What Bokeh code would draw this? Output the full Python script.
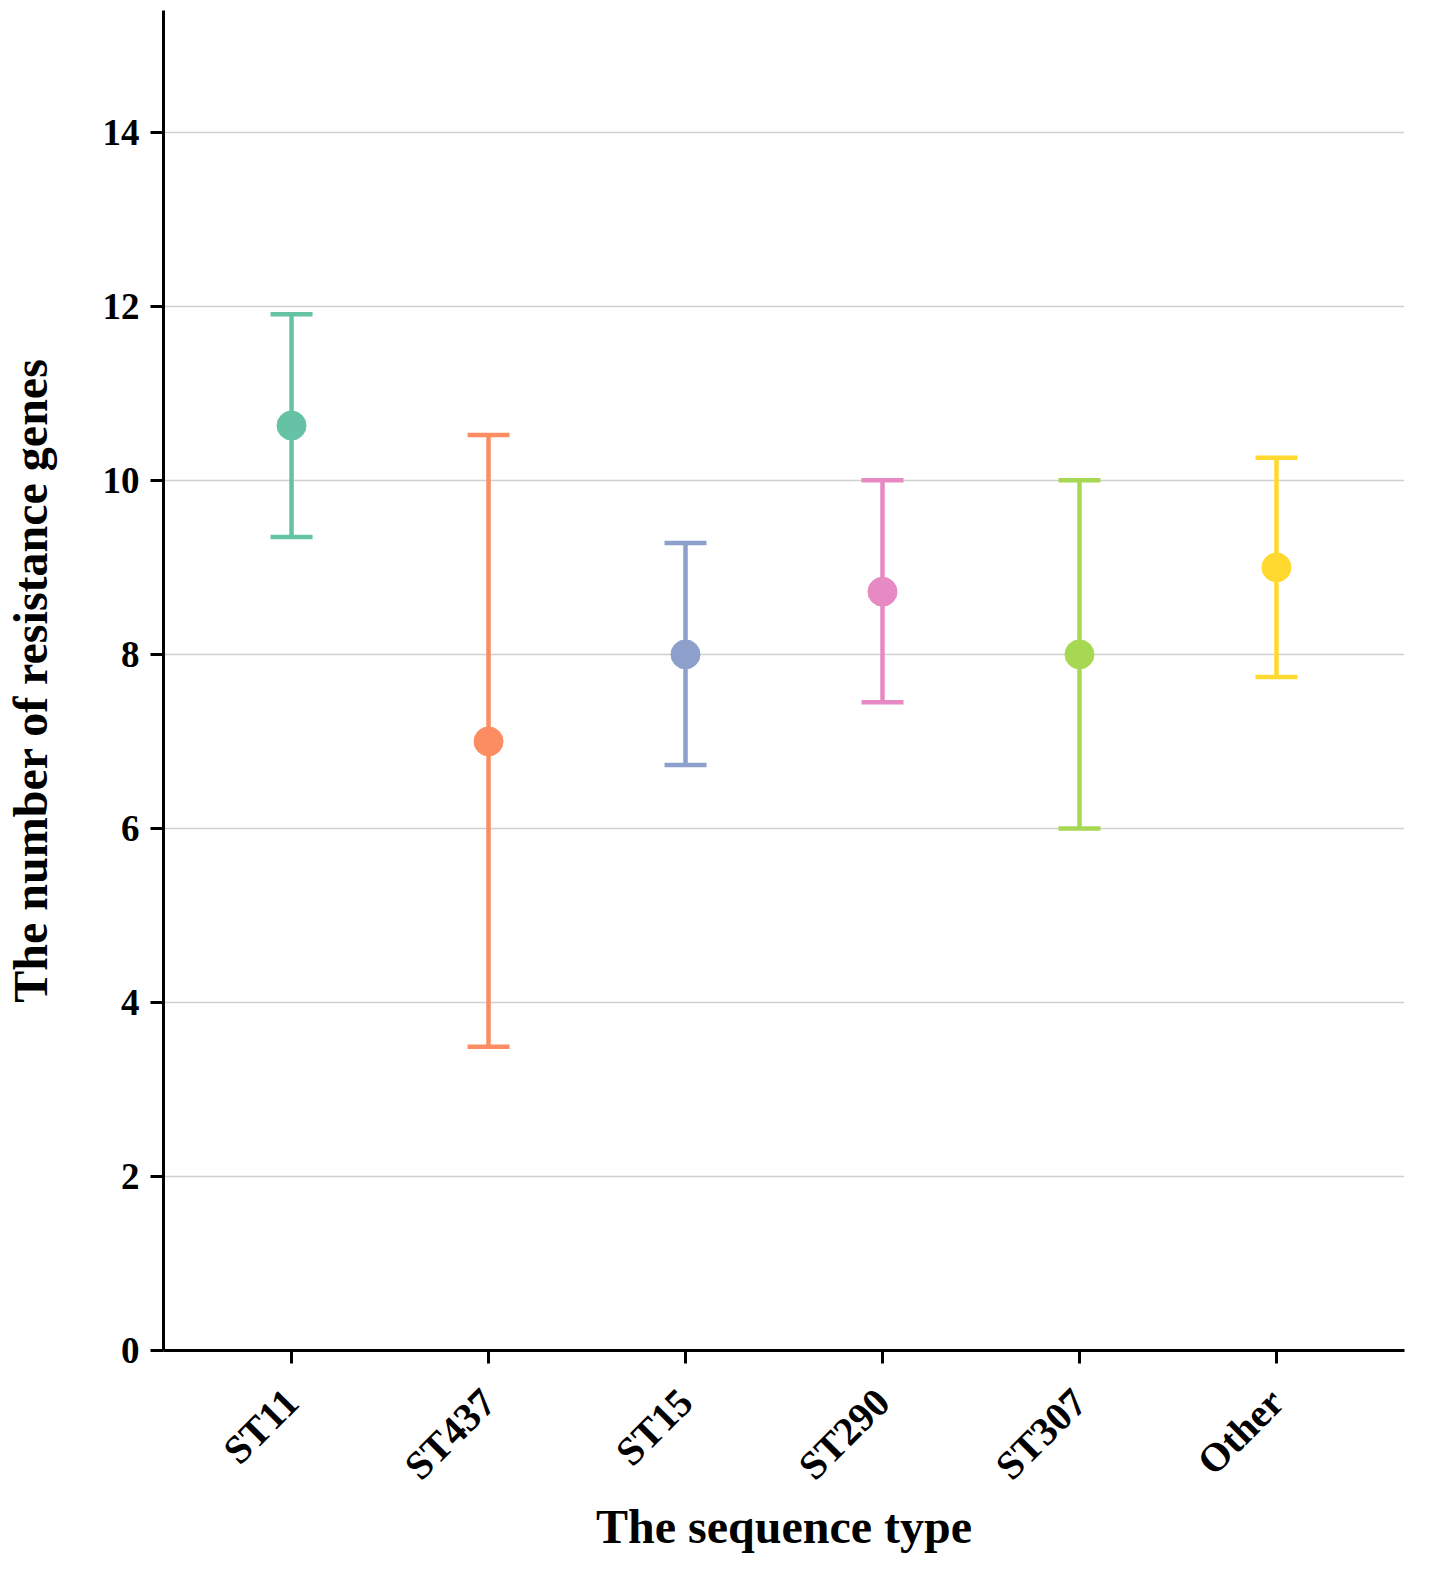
from bokeh.plotting import figure
from bokeh.models import FactorRange, Range1d, ColumnDataSource, FixedTicker
from bokeh.embed import file_html
from bokeh.resources import INLINE
import math

categories = ["ST11", "ST437", "ST15", "ST290", "ST307", "Other"]
means = [10.63, 7.0, 8.0, 8.72, 8.0, 9.0]
upper = [11.91, 10.52, 9.28, 10.0, 10.0, 10.26]
lower = [9.35, 3.49, 6.73, 7.45, 6.0, 7.74]
colors = ["#66c2a5", "#fc8d62", "#8da0cb", "#e78ac3", "#a6d854", "#ffd92f"]
y_ticks = [0, 2, 4, 6, 8, 10, 12, 14]

FONT = "Liberation Serif"

src = ColumnDataSource(dict(x=categories, m=means, u=upper, l=lower, c=colors))

p = figure(
    x_range=FactorRange(factors=categories, range_padding=0.15, range_padding_units="absolute"),
    y_range=Range1d(0, 15.4),
    width=1413, height=1561,
    min_border_left=160, min_border_top=10, min_border_right=9, min_border_bottom=211,
    output_backend="svg", toolbar_location=None,
)
p.outline_line_color = None
p.background_fill_color = "white"
p.border_fill_color = "white"

p.segment(x0="x", y0="l", x1="x", y1="u", source=src, line_color="c", line_width=4.5)
p.scatter(x="x", y="u", source=src, marker="dash", size=42, line_color="c", line_width=4.5)
p.scatter(x="x", y="l", source=src, marker="dash", size=42, line_color="c", line_width=4.5)
p.scatter(x="x", y="m", source=src, marker="circle", size=29, fill_color="c", line_color="c", line_width=1)

p.xgrid.grid_line_color = None
p.ygrid.grid_line_color = "#d0d0d0"
p.ygrid.grid_line_width = 1.5
p.ygrid.ticker = FixedTicker(ticks=y_ticks[1:])

p.yaxis.ticker = FixedTicker(ticks=y_ticks)
for ax in (p.xaxis, p.yaxis):
    ax.axis_line_width = 3
    ax.axis_line_color = "black"
    ax.major_tick_line_width = 3
    ax.major_tick_line_color = "black"
    ax.major_tick_out = 13
    ax.major_tick_in = 0
    ax.minor_tick_line_color = None
    ax.major_label_text_font = FONT
    ax.major_label_text_font_style = "bold"
    ax.major_label_text_color = "black"
    ax.axis_label_text_font = FONT
    ax.axis_label_text_font_style = "bold"
    ax.axis_label_text_color = "black"

p.yaxis.major_label_text_font_size = "37px"
p.xaxis.major_label_text_font_size = "40px"
p.yaxis.axis_label_text_font_size = "48px"
p.xaxis.axis_label_text_font_size = "48px"

p.xaxis.major_label_orientation = math.pi / 4
p.xaxis.axis_label = "The sequence type"
p.yaxis.axis_label = "The number of resistance genes"
p.yaxis.major_label_standoff = 11
p.xaxis.major_label_standoff = 32
p.xaxis.axis_label_standoff = -7
p.yaxis.axis_label_standoff = 43

open("out.html", "w").write(file_html(p, INLINE))
